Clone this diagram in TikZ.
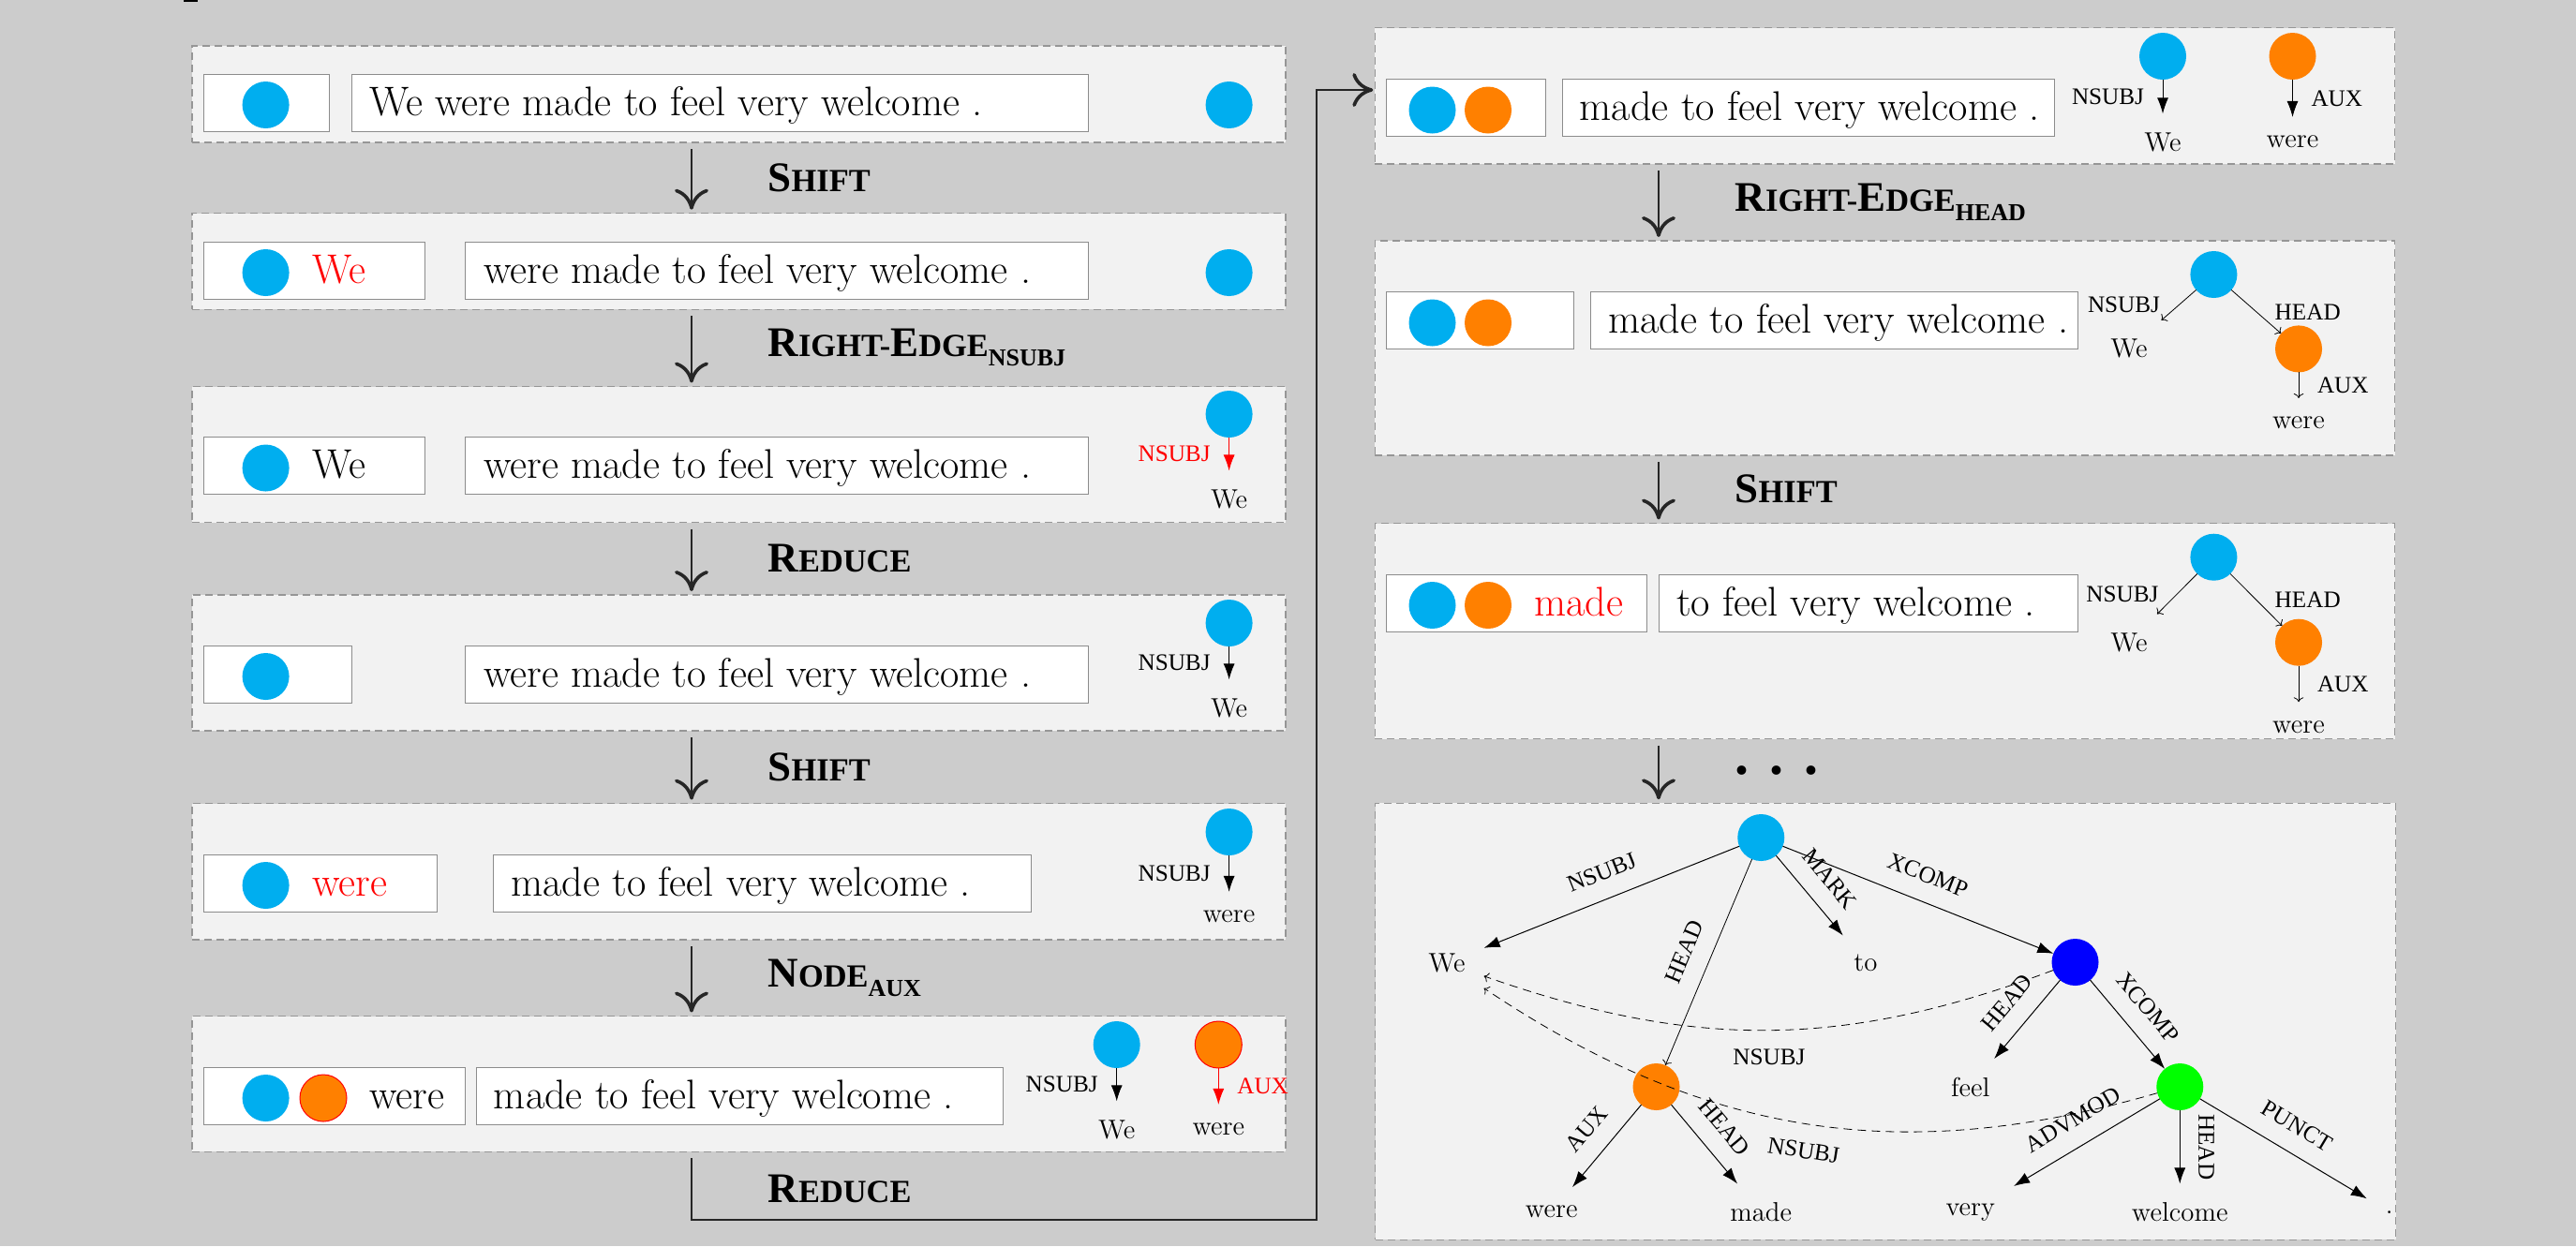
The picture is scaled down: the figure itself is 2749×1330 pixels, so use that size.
\documentclass[tikz,border=0pt]{standalone}
\usepackage{fontspec}
\newfontfamily\capsfont{Liberation Serif}
\usetikzlibrary{arrows.meta}

\definecolor{canvasgray}{RGB}{204,204,204}
\definecolor{panelgray}{RGB}{242,242,242}
\definecolor{rulegray}{RGB}{150,150,150}
\definecolor{boxgray}{RGB}{140,140,140}
\definecolor{stackcyan}{RGB}{0,174,239}
\definecolor{stackorange}{RGB}{255,128,0}

% faked bold small capitals for the transition names
\newcommand\TLbig[1]{{\fontsize{22.5}{24}\selectfont #1}}
\newcommand\TLsmall[1]{{\fontsize{17.2}{20}\selectfont #1}}
\newcommand\TLsub[1]{\raisebox{-5pt}{\fontsize{13}{14}\selectfont #1}}

\begin{document}
\begin{tikzpicture}[x=0.5pt, y=-0.5pt,
  stpanel/.style={draw=rulegray, line width=0.6pt, dash pattern=on 4pt off 2.5pt,
    fill=panelgray, anchor=north west, inner sep=0pt, outer sep=0pt},
  stbox/.style={draw=boxgray, line width=0.5pt, fill=white, anchor=north west,
    inner sep=0pt, outer sep=0pt, minimum height=30.5pt},
  sball/.style={circle, fill=#1, minimum size=25pt, inner sep=0pt, outer sep=0pt},
  btext/.style={font=\fontsize{22.1}{26}\selectfont, anchor=base west, inner sep=0pt},
  wordlab/.style={font=\fontsize{14.4}{16}\selectfont, inner sep=2pt, outer sep=8pt},
  deplab/.style={font=\capsfont\fontsize{12.6}{14}\selectfont, inner sep=2pt, outer sep=8pt},
  deparrow/.style={line width=0.5pt, -{Latex[length=8.5pt,width=6pt]}},
  thinarrow/.style={line width=0.4pt, ->},
  dasharrow/.style={line width=0.4pt, ->, dash pattern=on 4.5pt off 3pt},
  transarrow/.style={draw=black!85, line width=0.6pt, shorten <=3.5pt, shorten >=2pt,
    -{To[length=11pt,width=18pt,line width=1.8pt]}},
  translab/.style={font=\capsfont\bfseries, anchor=west, xshift=40.5pt, inner sep=0pt},
]
\useasboundingbox (0,0) rectangle (2749,1330);
\fill[canvasgray] (0,0) rectangle (2749,1330);
\fill[black] (196,0) rectangle (211,2);

\coordinate (lx) at (738,0);
\coordinate (rx) at (1770,0);

% ---------------- left column ----------------
% state 1
\node[stpanel, minimum width=583.5pt, minimum height=51.5pt] (L1) at (205,49) {};
\node[stbox, minimum width=67pt] (L1s) at (217,79) {};
\node[sball=stackcyan] (L1s1) at (283.6,112) {};
\node[stbox, minimum width=393pt] (L1b) at (375,79) {};
\node[btext] (L1bt) at (394,123) {We were made to feel very welcome .};
\node[sball=stackcyan] (L1t1) at (1311.6,112) {};

% state 2
\node[stpanel, minimum width=583.5pt, minimum height=51.2pt] (L2) at (205,227.7) {};
\node[stbox, minimum width=118.3pt] (L2s) at (217,258) {};
\node[sball=stackcyan] (L2s1) at (283.6,291) {};
\node[btext, text=red] (L2sw) at (333,302.5) {We};
\node[stbox, minimum width=332.5pt] (L2b) at (496,258) {};
\node[btext] (L2bt) at (515.7,302.5) {were made to feel very welcome .};
\node[sball=stackcyan] (L2t1) at (1311.6,291) {};

% state 3
\node[stpanel, minimum width=583.5pt, minimum height=72.5pt] (L3) at (205,412.5) {};
\node[stbox, minimum width=118.3pt] (L3s) at (217,466.6) {};
\node[sball=stackcyan] (L3s1) at (283.6,499.5) {};
\node[btext] (L3sw) at (333,510.6) {We};
\node[stbox, minimum width=332.5pt] (L3b) at (496,466.6) {};
\node[btext] (L3bt) at (515.7,510.6) {were made to feel very welcome .};
\node[sball=stackcyan] (L3t1) at (1311.6,442) {};
\node[wordlab] (L3w1) at (1311.6,532.6) {We};
\draw[deparrow, red] (L3t1) -- node[deplab, left, text=red] {NSUBJ} (L3w1);

% state 4
\node[stpanel, minimum width=583.5pt, minimum height=72.5pt] (L4) at (205,635) {};
\node[stbox, minimum width=79pt] (L4s) at (217,689) {};
\node[sball=stackcyan] (L4s1) at (283.6,722) {};
\node[stbox, minimum width=332.5pt] (L4b) at (496,689) {};
\node[btext] (L4bt) at (515.7,733) {were made to feel very welcome .};
\node[sball=stackcyan] (L4t1) at (1311.6,665) {};
\node[wordlab] (L4w1) at (1311.6,755.5) {We};
\draw[deparrow] (L4t1) -- node[deplab, left] {NSUBJ} (L4w1);

% state 5
\node[stpanel, minimum width=583.5pt, minimum height=72.7pt] (L5) at (205,857.6) {};
\node[stbox, minimum width=124.5pt] (L5s) at (217,912) {};
\node[sball=stackcyan] (L5s1) at (283.6,945) {};
\node[btext, text=red] (L5sw) at (333,956) {were};
\node[stbox, minimum width=286.75pt] (L5b) at (526.5,912) {};
\node[btext] (L5bt) at (544.8,956) {made to feel very welcome .};
\node[sball=stackcyan] (L5t1) at (1311.6,888) {};
\node[wordlab] (L5w1) at (1311.6,978.5) {were};
\draw[deparrow] (L5t1) -- node[deplab, left] {NSUBJ} (L5w1);

% state 6
\node[stpanel, minimum width=583.5pt, minimum height=72.3pt] (L6) at (205,1084.5) {};
\node[stbox, minimum width=139.5pt] (L6s) at (217,1139.5) {};
\node[sball=stackcyan] (L6s1) at (283.6,1172) {};
\node[sball=stackorange, draw=red, line width=0.5pt] (L6s2) at (345,1172) {};
\node[btext] (L6sw) at (394,1183.5) {were};
\node[stbox, minimum width=281.35pt] (L6b) at (508,1139.5) {};
\node[btext] (L6bt) at (526.5,1183.5) {made to feel very welcome .};
\node[sball=stackcyan] (L6t1) at (1191.7,1115) {};
\node[wordlab] (L6w1) at (1191.7,1205.5) {We};
\node[sball=stackorange, draw=red, line width=0.5pt] (L6t2) at (1300.3,1115) {};
\node[wordlab] (L6w2) at (1300.3,1205.5) {were};
\draw[deparrow] (L6t1) -- node[deplab, left] {NSUBJ} (L6w1);
\draw[deparrow, red] (L6t2) -- node[deplab, right, text=red] {AUX} (L6w2);

% transitions, left column
\draw[transarrow] (L1.south -| lx) -- node[translab] {\TLbig{S}\TLsmall{HIFT}} (L2.north -| lx);
\draw[transarrow] (L2.south -| lx) -- node[translab] {\TLbig{R}\TLsmall{IGHT-}\TLbig{E}\TLsmall{DGE}\TLsub{NSUBJ}} (L3.north -| lx);
\draw[transarrow] (L3.south -| lx) -- node[translab] {\TLbig{R}\TLsmall{EDUCE}} (L4.north -| lx);
\draw[transarrow] (L4.south -| lx) -- node[translab] {\TLbig{S}\TLsmall{HIFT}} (L5.north -| lx);
\draw[transarrow] (L5.south -| lx) -- node[translab] {\TLbig{N}\TLsmall{ODE}\TLsub{AUX}} (L6.north -| lx);

% ---------------- right column ----------------
% state 7
\node[stpanel, minimum width=544.2pt, minimum height=72.6pt] (R1) at (1467.3,29.8) {};
\node[stbox, minimum width=84.9pt] (R1s) at (1479.6,84.7) {};
\node[sball=stackcyan] (R1s1) at (1528.5,117.5) {};
\node[sball=stackorange] (R1s2) at (1588,117.5) {};
\node[stbox, minimum width=262.75pt] (R1b) at (1667,84.7) {};
\node[btext] (R1bt) at (1685.3,128.7) {made to feel very welcome .};
\node[sball=stackcyan] (R1t1) at (2308,60) {};
\node[sball=stackorange] (R1t2) at (2446.5,60) {};
\node[wordlab] (R1w1) at (2308,151.5) {We};
\node[wordlab] (R1w2) at (2446.5,151.5) {were};
\draw[deparrow] (R1t1) -- node[deplab, left] {NSUBJ} (R1w1);
\draw[deparrow] (R1t2) -- node[deplab, right] {AUX} (R1w2);

% state 8
\node[stpanel, minimum width=544.2pt, minimum height=114.5pt] (R2) at (1467.3,257) {};
\node[stbox, minimum width=99.7pt] (R2s) at (1479.6,311.7) {};
\node[sball=stackcyan] (R2s1) at (1528.5,344.5) {};
\node[sball=stackorange] (R2s2) at (1588,344.5) {};
\node[stbox, minimum width=259.7pt] (R2b) at (1697.6,311.7) {};
\node[btext] (R2bt) at (1716,355.7) {made to feel very welcome .};
\node[sball=stackcyan] (R2t1) at (2362.4,293) {};
\node[sball=stackorange] (R2t2) at (2453,372.4) {};
\node[wordlab] (R2w1) at (2272,372) {We};
\node[wordlab] (R2w2) at (2453,451.5) {were};
\draw[thinarrow] (R2t1) -- node[deplab, left] {NSUBJ} (R2w1);
\draw[thinarrow] (R2t1) -- node[deplab, right] {HEAD} (R2t2);
\draw[thinarrow] (R2t2) -- node[deplab, right] {AUX} (R2w2);

% state 9
\node[stpanel, minimum width=544.2pt, minimum height=115pt] (R3) at (1467.3,558.5) {};
\node[stbox, minimum width=138.7pt] (R3s) at (1479.6,613) {};
\node[sball=stackcyan] (R3s1) at (1528.5,646) {};
\node[sball=stackorange] (R3s2) at (1588,646) {};
\node[btext, text=red] (R3sw) at (1637,657) {made};
\node[stbox, minimum width=223.5pt] (R3b) at (1770,613) {};
\node[btext] (R3bt) at (1788.6,657) {to feel very welcome .};
\node[sball=stackcyan] (R3t1) at (2362.4,594.7) {};
\node[sball=stackorange] (R3t2) at (2453,685.7) {};
\node[wordlab] (R3w1) at (2272,685.6) {We};
\node[wordlab] (R3w2) at (2453,775.8) {were};
\draw[thinarrow] (R3t1) -- node[deplab, left] {NSUBJ} (R3w1);
\draw[thinarrow] (R3t1) -- node[deplab, right] {HEAD} (R3t2);
\draw[thinarrow] (R3t2) -- node[deplab, right] {AUX} (R3w2);

% final tree
\node[stpanel, minimum width=544.5pt, minimum height=232.9pt] (R4) at (1467.5,857.3) {};
\node[sball=stackcyan] (R4root) at (1879.25,894) {};
\node[sball=blue] (R4xc) at (2214.5,1027) {};
\node[sball=green] (R4xc2) at (2326.25,1160) {};
\node[sball=stackorange] (R4aux) at (1767.5,1160) {};
\node[wordlab] (R4we) at (1544,1027.5) {We};
\node[wordlab] (R4to) at (1991,1027.5) {to};
\node[wordlab] (R4feel) at (2102.75,1160.3) {feel};
\node[wordlab] (R4were) at (1655.75,1293.6) {were};
\node[wordlab] (R4made) at (1879.25,1293.6) {made};
\node[wordlab] (R4very) at (2102.75,1293.6) {very};
\node[wordlab] (R4welcome) at (2326.25,1293.6) {welcome};
\node[wordlab] (R4dot) at (2549.75,1293.6) {.};
\draw[deparrow] (R4root) -- node[deplab, sloped, above] {NSUBJ} (R4we);
\draw[thinarrow] (R4root) -- node[deplab, sloped, above] {HEAD} (R4aux);
\draw[deparrow] (R4root) -- node[deplab, sloped, above] {MARK} (R4to);
\draw[deparrow] (R4root) -- node[deplab, sloped, above] {XCOMP} (R4xc);
\draw[deparrow] (R4xc) -- node[deplab, sloped, above] {HEAD} (R4feel);
\draw[deparrow] (R4xc) -- node[deplab, sloped, above] {XCOMP} (R4xc2);
\draw[deparrow] (R4xc2) -- node[deplab, sloped, above] {ADVMOD} (R4very);
\draw[deparrow] (R4xc2) -- node[deplab, sloped, above, allow upside down] {HEAD} (R4welcome);
\draw[deparrow] (R4xc2) -- node[deplab, sloped, above] {PUNCT} (R4dot);
\draw[deparrow] (R4aux) -- node[deplab, sloped, above] {AUX} (R4were);
\draw[deparrow] (R4aux) -- node[deplab, sloped, above] {HEAD} (R4made);
\draw[dasharrow] (R4xc) to[bend left=20] node[deplab, below] {NSUBJ} (R4we);
\draw[dasharrow] (R4xc2) to[bend left=25] node[deplab, sloped, below] {NSUBJ} (R4we);

% transitions, right column
\draw[transarrow] (R1.south -| rx) -- node[translab] {\TLbig{R}\TLsmall{IGHT-}\TLbig{E}\TLsmall{DGE}\TLsub{HEAD}} (R2.north -| rx);
\draw[transarrow] (R2.south -| rx) -- node[translab] {\TLbig{S}\TLsmall{HIFT}} (R3.north -| rx);
\draw[transarrow] (R3.south -| rx) -- node[translab] {{\fontsize{30}{30}\selectfont .\hspace{11pt}.\hspace{11pt}.}} (R4.north -| rx);

% reduce step leading from the bottom of the left column to the top of the right one
\coordinate (corner) at (1405,1302);
\coordinate (intoR1) at (1467.3,96);
\draw[transarrow, shorten >=1pt] (L6.south -| lx) -- node[translab, yshift=-1.5pt] {\TLbig{R}\TLsmall{EDUCE}} (lx |- corner) -- (corner) |- (intoR1);
\end{tikzpicture}
\end{document}
